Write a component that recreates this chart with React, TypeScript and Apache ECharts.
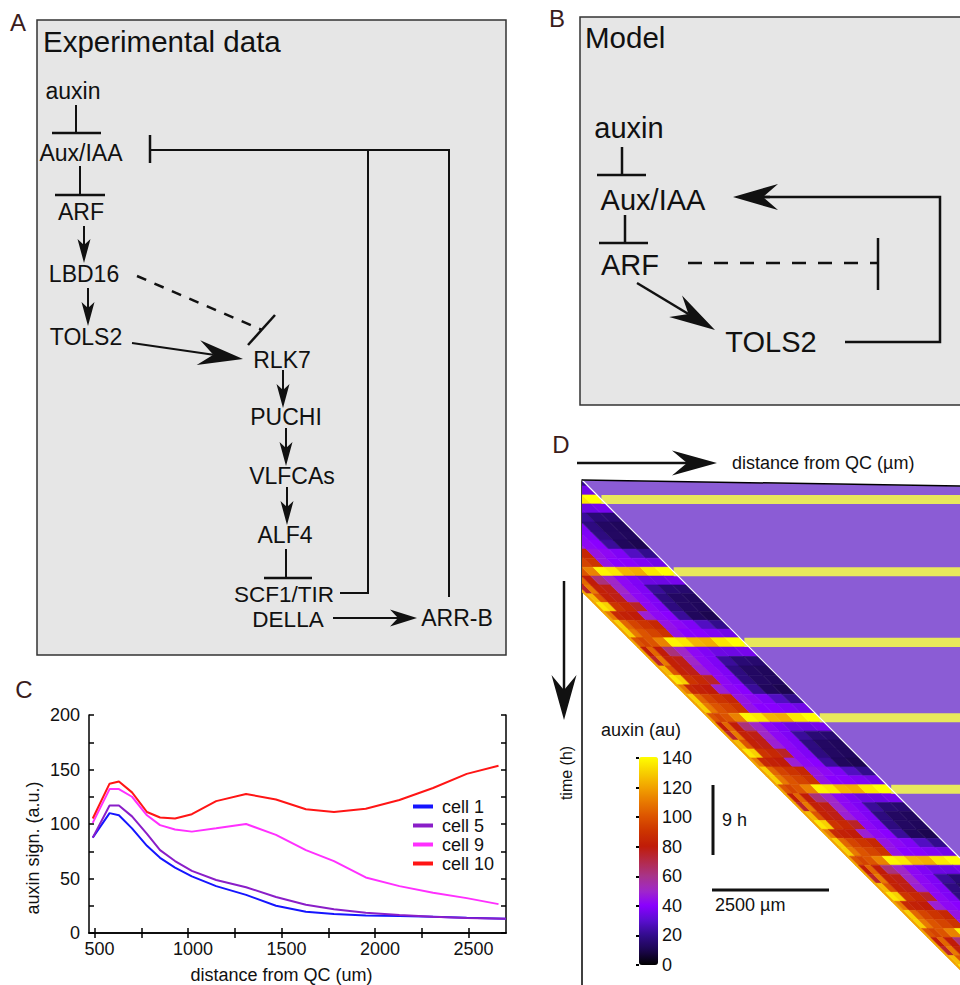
import React, { useEffect, useRef } from "react";
import * as echarts from "echarts";

const FONT = "'Liberation Sans', Arial, Helvetica, sans-serif";
const INK = "#111";

// ---------- Panel C data ----------
const distanceShort = [490, 580, 630, 700, 780, 850, 930, 1020, 1150, 1310, 1470, 1630, 1780, 1950, 2130, 2310, 2490, 2660];
const distanceLong = [490, 580, 630, 700, 780, 850, 930, 1020, 1150, 1310, 1470, 1630, 1780, 1950, 2130, 2310, 2490, 2700];
const cell1 = [87.5, 110, 108, 96, 80, 69, 60, 52, 43, 35, 25, 19.5, 17.4, 16, 15.6, 15, 14, 13];
const cell5 = [87.5, 117, 117, 107, 91, 76, 66, 57, 48.6, 42, 33, 26, 21.7, 18.6, 16.5, 15, 13.8, 13];
const cell9 = [101, 132, 132, 125, 108, 99, 95, 93, 96, 100, 90, 76, 66, 51, 43, 37, 32, 26.5];
const cell10 = [105, 137, 139, 129, 111, 106, 105, 109, 121, 127.5, 122.5, 113.5, 111, 114, 122, 133, 146, 153.5];
const xTicks = [500, 750, 1000, 1250, 1500, 1750, 2000, 2250, 2500];
const xLabels = [500, 1000, 1500, 2000, 2500];

// ---------- Panel D data ----------
const distanceMax = 8150; // µm at right edge of panel
const timeMax = 65; // h at bottom of panel
const rootSpeed = 167.5; // µm per h (slope of the root tip line)
const stripWidth = 2415; // µm, width of the simulated root zone
const stripeTimes = [-6.8, 2.5, 11.8, 20.9, 30.6, 39.8, 49.0, 58.3, 67.6]; // h, prebranch rows
const stripeHeight = 1.16; // h
// depth bin edges across the root zone (0 = basal edge, 1 = tip edge)
const depthEdges = [0, 0.03, 0.08, 0.14, 0.22, 0.32, 0.42, 0.52, 0.62, 0.74, 0.87, 1];
// auxin values per row of one period (row 0 = prebranch row)
const periodRow0 = [120, 100, 95, 100, 112, 138, 135, 124, 122, 135, 140];
const periodRow1 = [120, 80, 105, 80, 62, 50, 42, 38, 34, 34, 36];
const periodRow2 = [120, 75, 110, 82, 78, 50, 42, 38, 22, 16, 15];
const periodRow3 = [120, 125, 100, 82, 78, 48, 42, 38, 18, 13, 12];
const periodRow4 = [120, 135, 130, 90, 85, 75, 42, 38, 18, 13, 12];
const periodRow5 = [120, 110, 85, 82, 80, 48, 42, 40, 22, 12, 10];
const periodRow6 = [120, 130, 105, 95, 90, 85, 45, 42, 38, 28, 20];
const periodRow7 = [120, 130, 110, 100, 95, 90, 45, 40, 40, 38, 35];
const periodPattern = [periodRow0, periodRow1, periodRow2, periodRow3, periodRow4, periodRow5, periodRow6, periodRow7];
const colorStops = ['#000000', '#1c0650', '#320c8c', '#5a0ed0', '#8a00ff', '#a028c8', '#a83488', '#b42a48', '#c01c08', '#cc3400', '#dc5400', '#e87a00', '#f2a400', '#f8d000', '#ffff00'];

function text(t: string, x: number, y: number, size: number, align = "center", rot = 0, color = INK) {
  return {
    type: "text", x, y, rotation: rot, z: 100,
    style: { text: t, fill: color, font: `${size}px ${FONT}`, align, verticalAlign: "middle", textAlign: align, textVerticalAlign: "middle" },
  };
}
function poly(points: number[][], w = 2, dash?: number[]) {
  return { type: "polyline", z: 100, shape: { points }, style: { stroke: INK, lineWidth: w, fill: null, lineDash: dash } };
}
function arrow(x1: number, y1: number, x2: number, y2: number, len: number, hw: number, notch: number, w = 2) {
  const dx = x2 - x1, dy = y2 - y1, l = Math.hypot(dx, dy);
  const ux = dx / l, uy = dy / l, nx = -uy, ny = ux;
  const bx = x2 - ux * len, by = y2 - uy * len;
  const mx = x2 - ux * (len - notch), my = y2 - uy * (len - notch);
  return [
    { type: "line", z: 100, shape: { x1, y1, x2: mx, y2: my }, style: { stroke: INK, lineWidth: w } },
    { type: "polygon", z: 100, shape: { points: [[x2, y2], [bx + nx * hw, by + ny * hw], [mx, my], [bx - nx * hw, by - ny * hw]] }, style: { fill: INK } },
  ];
}
function seg(x1: number, y1: number, x2: number, y2: number, w = 2, dash?: number[]) {
  return { type: "line", z: 100, shape: { x1, y1, x2, y2 }, style: { stroke: INK, lineWidth: w, lineDash: dash } };
}

function buildOption() {
  const heatData: number[][] = [];
  for (let k = 0; k < stripeTimes.length - 1; k++) {
    const s = stripeTimes[k];
    const dt = (stripeTimes[k + 1] - s) / periodPattern.length;
    periodPattern.forEach((row, r) => {
      const t0 = s + (r - 0.5) * dt;
      row.forEach((v, b) => heatData.push([t0, t0 + dt, depthEdges[b], depthEdges[b + 1], v]));
    });
  }
  const stripeData = stripeTimes.filter((t) => t > 0 && t * rootSpeed < distanceMax).map((t) => [t]);
  const xAt = (t: number, d: number) => rootSpeed * t - stripWidth * (1 - d);
  const tipExit = distanceMax / rootSpeed;

  const graphics: any[] = [
    // panel labels
    text("A", 18, 22, 24, "center", 0, "#3a1c1c"),
    text("B", 557, 18, 24, "center", 0, "#3a1c1c"),
    text("C", 24, 689, 24, "center", 0, "#3a1c1c"),
    text("D", 561, 444, 24, "center", 0, "#3a1c1c"),
    // boxes
    { type: "rect", z: 90, shape: { x: 37, y: 20, width: 469, height: 635 }, style: { fill: "#e6e6e6", stroke: "#333", lineWidth: 1.5 } },
    { type: "rect", z: 90, shape: { x: 580, y: 17, width: 400, height: 388 }, style: { fill: "#e6e6e6", stroke: "#333", lineWidth: 1.5 } },
    // panel A
    text("Experimental data", 43, 41, 29.5, "left"),
    text("auxin", 73, 91, 23),
    seg(76, 105, 76, 133), seg(52, 133, 101, 133, 2.5),
    text("Aux/IAA", 81, 153, 23),
    seg(80, 166, 80, 195), seg(55, 195, 105, 195, 2.5),
    text("ARF", 81, 212, 23),
    ...arrow(84, 226, 84, 263, 24, 6.5, 6),
    text("LBD16", 84, 274, 23),
    ...arrow(88, 288, 88, 326, 24, 6.5, 6),
    text("TOLS2", 86, 337, 23),
    seg(137, 276, 262, 330, 2.5, [10, 9]),
    seg(275, 315, 248, 345, 2.5),
    ...arrow(132, 343, 243, 359, 45, 12.5, 15),
    text("RLK7", 282, 360, 23),
    ...arrow(283, 370, 283, 408, 24, 6.5, 6),
    text("PUCHI", 286, 417, 23),
    ...arrow(286, 428, 286, 466, 24, 6.5, 6),
    text("VLFCAs", 292, 476, 23),
    ...arrow(287, 487, 287, 525, 24, 6.5, 6),
    text("ALF4", 285, 535, 23),
    seg(286, 549, 286, 578), seg(264, 578, 312, 578, 2.5),
    text("SCF1/TIR", 284, 594, 22.5),
    text("DELLA", 288, 619, 22.5),
    ...arrow(333, 618, 417, 618, 27, 8.5, 8),
    text("ARR-B", 457, 618, 23),
    poly([[340, 593], [368, 593], [368, 150], [150, 150]]),
    seg(150, 135, 150, 163, 2.5),
    poly([[449, 597], [449, 150], [368, 150]]),
    // panel B
    text("Model", 585, 37, 29.5, "left"),
    text("auxin", 629, 128, 29),
    seg(622, 147, 622, 175, 2.5), seg(597, 175, 646, 175, 2.5),
    text("Aux/IAA", 653, 200, 29),
    seg(625, 215, 625, 243, 2.5), seg(599, 243, 648, 243, 2.5),
    text("ARF", 630, 265, 29),
    seg(688, 263, 878, 263, 2.5, [14, 12]),
    seg(878, 238, 878, 290, 2.5),
    ...arrow(637, 283, 715, 330, 46, 12.5, 15, 2.5),
    text("TOLS2", 771, 342, 29),
    poly([[845, 342], [940, 342], [940, 197], [760, 197]], 2.5),
    ...arrow(770, 197, 733, 197, 45, 13, 15, 2.5),
    // panel D decorations
    ...arrow(577, 463, 717, 463, 45, 12.5, 15, 2.5),
    text("distance from QC (µm)", 732, 463, 18, "left"),
    ...arrow(564, 581, 564, 720, 45, 12.5, 15, 2.5),
    text("time (h)", 566, 773, 16, "center", Math.PI / 2),
    text("auxin (au)", 641, 730, 18),
    seg(713, 785, 713, 855, 3),
    text("9 h", 722, 820, 18, "left"),
    seg(712, 890, 829, 890, 3),
    text("2500 µm", 715, 905, 18, "left"),
  ];

  const axisLineC = { show: true, lineStyle: { color: "#000", width: 1.5 } };
  const tickC = { show: true, inside: true, length: 5, lineStyle: { color: "#000", width: 1.5 } };

  return {
    animation: false,
    textStyle: { fontFamily: FONT },
    grid: [
      { left: 89, top: 715, width: 417, height: 218, outerBoundsMode: "none" },
      { left: 582, top: 480, width: 378, height: 505, outerBoundsMode: "none" },
      { left: 639, top: 758, width: 19, height: 207, outerBoundsMode: "none" },
    ],
    xAxis: [
      {
        gridIndex: 0, type: "value", min: 470, max: 2700, position: "bottom",
        axisLine: axisLineC, axisTick: { ...tickC, customValues: xTicks },
        axisLabel: { customValues: xLabels, fontSize: 18, color: INK, margin: 7, fontFamily: FONT, padding: [0, 0, 0, 10], formatter: (v: number) => String(v) },
        splitLine: { show: false },
        name: "distance from QC (um)", nameLocation: "middle", nameGap: 33,
        nameTextStyle: { fontSize: 18, color: INK, fontFamily: FONT, padding: [0, 32, 0, 0] },
      },
      {
        gridIndex: 0, type: "value", min: 470, max: 2700, position: "top",
        axisLine: axisLineC, axisTick: { ...tickC, customValues: xTicks },
        axisLabel: { show: false }, splitLine: { show: false },
      },
      { gridIndex: 1, type: "value", min: 0, max: distanceMax, show: false },
      { gridIndex: 2, type: "value", min: 0, max: 1, show: false },
    ],
    yAxis: [
      {
        gridIndex: 0, type: "value", min: 0, max: 200, interval: 50, position: "left",
        axisLine: axisLineC, axisTick: tickC,
        minorTick: { show: true, splitNumber: 2, length: 5, lineStyle: { color: "#000", width: 1.5 } },
        axisLabel: { fontSize: 18, color: INK, margin: 9, fontFamily: FONT },
        splitLine: { show: false }, minorSplitLine: { show: false },
        name: "auxin sign. (a.u.)", nameLocation: "middle", nameGap: 47,
        nameTextStyle: { fontSize: 18, color: INK, fontFamily: FONT, padding: [0, 48, 0, 0] },
      },
      {
        gridIndex: 0, type: "value", min: 0, max: 200, interval: 50, position: "right",
        axisLine: axisLineC, axisTick: tickC,
        minorTick: { show: true, splitNumber: 2, length: 5, lineStyle: { color: "#000", width: 1.5 } },
        axisLabel: { show: false }, splitLine: { show: false },
      },
      {
        gridIndex: 1, type: "value", min: 0, max: timeMax, inverse: true, position: "left",
        axisLine: { show: true, lineStyle: { color: "#000", width: 1.5 } },
        axisTick: { show: false }, axisLabel: { show: false }, splitLine: { show: false },
      },
      {
        gridIndex: 2, type: "value", min: 0, max: 140, interval: 20, position: "right",
        axisLine: { show: false },
        axisTick: { show: true, inside: true, length: 3, lineStyle: { color: "#000", width: 2 } },
        axisLabel: { fontSize: 18, color: INK, margin: 4, fontFamily: FONT },
        splitLine: { show: false }, z: 10,
      },
    ],
    legend: {
      orient: "vertical", left: 413, top: 797, padding: 0, itemGap: 0,
      itemWidth: 20, itemHeight: 4, icon: "rect",
      textStyle: { fontSize: 18, color: INK, lineHeight: 19, fontFamily: FONT, padding: [0, 0, 0, 4] },
      data: ["cell 1", "cell 5", "cell 9", "cell 10"],
    },
    visualMap: {
      type: "continuous", seriesIndex: 5, dimension: 4, min: 0, max: 140,
      left: 639, top: 757, itemWidth: 19, itemHeight: 208, padding: 0,
      calculable: false, orient: "vertical",
      inRange: { color: colorStops },
    },
    series: [
      { name: "cell 1", type: "line", xAxisIndex: 0, yAxisIndex: 0, showSymbol: false, color: "#1515ff", lineStyle: { width: 2 }, data: distanceLong.map((x, i) => [x, cell1[i]]) },
      { name: "cell 5", type: "line", xAxisIndex: 0, yAxisIndex: 0, showSymbol: false, color: "#8a1ec8", lineStyle: { width: 2 }, data: distanceLong.map((x, i) => [x, cell5[i]]) },
      { name: "cell 9", type: "line", xAxisIndex: 0, yAxisIndex: 0, showSymbol: false, color: "#ff30ff", lineStyle: { width: 2 }, data: distanceShort.map((x, i) => [x, cell9[i]]) },
      { name: "cell 10", type: "line", xAxisIndex: 0, yAxisIndex: 0, showSymbol: false, color: "#ff1515", lineStyle: { width: 2 }, data: distanceShort.map((x, i) => [x, cell10[i]]) },
      {
        type: "custom", xAxisIndex: 2, yAxisIndex: 2, clip: true, silent: true, data: [[0, 0]],
        renderItem: (_p: any, api: any) => {
          const a = api.coord([0, 0.02]);
          const b = api.coord([distanceMax, 0.8]);
          const c = api.coord([distanceMax, tipExit]);
          return { type: "polygon", shape: { points: [a, b, c] }, style: { fill: "#8b5cd5" } };
        },
      },
      {
        type: "custom", xAxisIndex: 2, yAxisIndex: 2, clip: true, silent: true,
        dimensions: ["t0", "t1", "d0", "d1", "auxin"],
        data: heatData,
        renderItem: (_p: any, api: any) => {
          const t0 = api.value(0), t1 = api.value(1), d0 = api.value(2), d1 = api.value(3);
          const pts = [[xAt(t0, d0), t0], [xAt(t0, d1), t0], [xAt(t1, d1), t1], [xAt(t1, d0), t1]].map((p) => api.coord(p));
          const c = api.visual("color");
          return { type: "polygon", shape: { points: pts }, style: { fill: c, stroke: c, lineWidth: 0.6 } };
        },
      },
      {
        type: "custom", xAxisIndex: 2, yAxisIndex: 2, clip: true, silent: true, data: stripeData,
        renderItem: (_p: any, api: any) => {
          const t = api.value(0);
          const a = api.coord([rootSpeed * t, t - stripeHeight / 2]);
          const b = api.coord([distanceMax, t + stripeHeight / 2]);
          return { type: "rect", shape: { x: a[0], y: a[1], width: b[0] - a[0], height: b[1] - a[1] }, style: { fill: "#e8e85c" } };
        },
      },
      {
        type: "custom", xAxisIndex: 2, yAxisIndex: 2, clip: false, silent: true, data: [[0, 0]],
        renderItem: (_p: any, api: any) => {
          const a = api.coord([0, 0]);
          const b = api.coord([distanceMax, tipExit]);
          const c = api.coord([distanceMax, 0.77]);
          return {
            type: "group",
            children: [
              { type: "line", shape: { x1: a[0], y1: a[1], x2: b[0], y2: b[1] }, style: { stroke: "#ffffff", lineWidth: 1.2 } },
              { type: "line", shape: { x1: a[0], y1: a[1], x2: c[0], y2: c[1] }, style: { stroke: "#000000", lineWidth: 1.5 } },
            ],
          };
        },
      },
    ],
    graphic: { elements: graphics },
  };
}

export default function App() {
  const ref = useRef<HTMLDivElement>(null);
  useEffect(() => {
    document.body.style.margin = "0";
    const chart = echarts.init(ref.current!, null, { renderer: "svg" });
    chart.setOption(buildOption() as any);
    return () => chart.dispose();
  }, []);
  return <div ref={ref} style={{ width: 960, height: 985 }} />;
}
